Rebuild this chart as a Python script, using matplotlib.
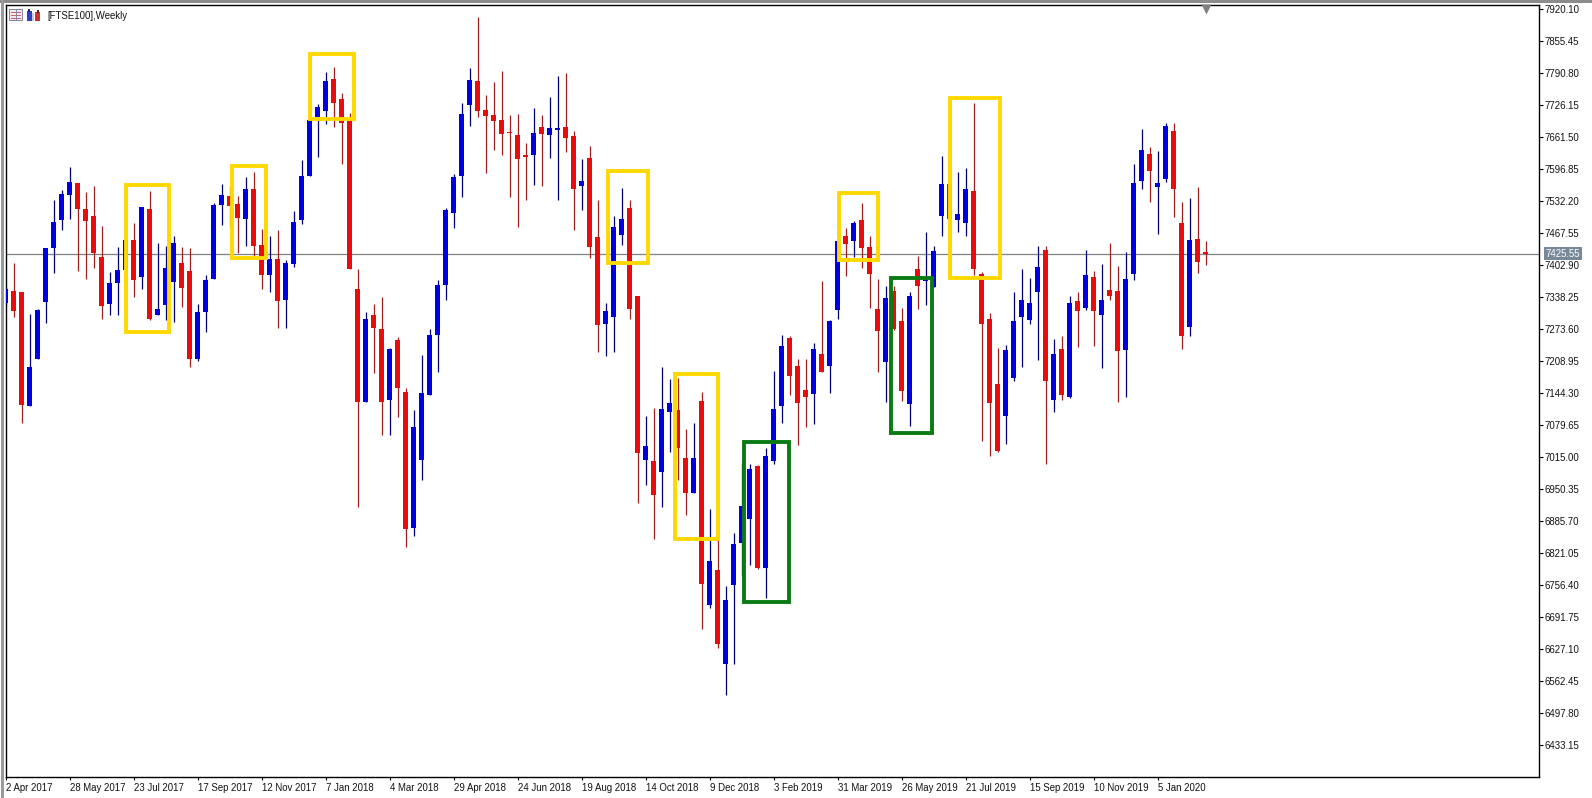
import matplotlib
matplotlib.use("Agg")
import matplotlib.pyplot as plt
from matplotlib.patches import Rectangle

opens = [7325, 7350, 7347, 7118, 7212, 7328, 7437, 7493, 7544, 7568,
         7515, 7501, 7419, 7324, 7366, 7392, 7453, 7379, 7515, 7301,
         7322, 7369, 7407, 7390, 7212, 7307, 7375, 7523, 7542, 7525,
         7495, 7556, 7443, 7382, 7414, 7332, 7404, 7493, 7582, 7701,
         7713, 7778, 7738, 7694, 7354, 7126, 7302, 7273, 7130, 7251,
         7146, 6872, 7008, 7140, 7260, 7362, 7508, 7582, 7726, 7774,
         7715, 7705, 7695, 7671, 7665, 7625, 7625, 7681, 7665, 7676,
         7681, 7663, 7562, 7619, 7459, 7283, 7298, 7463, 7518, 7340,
         7008, 7006, 6985, 7105, 7109, 7012, 6942, 7128, 6716, 6786,
         6597, 6756, 6841, 6889, 6996, 6791, 7006, 7118, 7255, 7198,
         7150, 7142, 7223, 7199, 7312, 7461, 7451, 7493, 7439, 7313,
         7206, 7350, 7289, 7122, 7394, 7370, 7358, 7501, 7565, 7493,
         7487, 7552, 7384, 7293, 7162, 7098, 7174, 7297, 7291, 7348,
         7433, 7130, 7233, 7136, 7330, 7315, 7378, 7301, 7352, 7350,
         7231, 7384, 7573, 7627, 7560, 7577, 7674, 7487, 7277, 7455, 7428]
highs = [7358, 7406, 7348, 7303, 7313, 7437, 7534, 7554, 7601, 7568,
         7550, 7561, 7481, 7388, 7439, 7457, 7488, 7520, 7552, 7447,
         7441, 7461, 7439, 7437, 7323, 7382, 7527, 7566, 7561, 7542,
         7581, 7590, 7476, 7461, 7474, 7412, 7511, 7614, 7699, 7728,
         7792, 7803, 7749, 7709, 7394, 7307, 7324, 7338, 7235, 7257,
         7153, 7109, 7221, 7274, 7373, 7517, 7586, 7729, 7800, 7904,
         7746, 7773, 7794, 7705, 7707, 7648, 7719, 7705, 7742, 7784,
         7791, 7674, 7617, 7643, 7534, 7326, 7501, 7557, 7534, 7340,
         7097, 7113, 7197, 7172, 7175, 7071, 7084, 7145, 6909, 6853,
         6754, 6860, 7002, 7000, 6998, 7032, 7188, 7261, 7258, 7212,
         7212, 7244, 7370, 7291, 7451, 7478, 7491, 7527, 7461, 7374,
         7360, 7359, 7316, 7348, 7421, 7469, 7441, 7623, 7566, 7591,
         7598, 7730, 7389, 7305, 7234, 7241, 7348, 7394, 7376, 7441,
         7441, 7253, 7258, 7340, 7348, 7433, 7390, 7404, 7447, 7400,
         7429, 7606, 7678, 7640, 7633, 7690, 7690, 7530, 7538, 7560, 7451]
lows = [7322, 7297, 7083, 7118, 7212, 7285, 7387, 7473, 7495, 7390,
        7374, 7396, 7293, 7301, 7301, 7388, 7338, 7354, 7291, 7301,
        7291, 7288, 7318, 7196, 7209, 7268, 7375, 7483, 7480, 7426,
        7441, 7421, 7354, 7348, 7276, 7276, 7399, 7485, 7582, 7621,
        7687, 7682, 7606, 7394, 6914, 7126, 7184, 7059, 7059, 7096,
        6833, 6855, 6969, 7140, 7187, 7332, 7478, 7539, 7683, 7702,
        7588, 7635, 7625, 7540, 7480, 7534, 7564, 7562, 7619, 7534,
        7631, 7473, 7513, 7416, 7227, 7219, 7227, 7443, 7293, 6921,
        6958, 6848, 6914, 7025, 6968, 6897, 6942, 6668, 6709, 6628,
        6534, 6597, 6775, 6796, 6788, 6730, 7000, 7083, 7140, 7039,
        7076, 7081, 7186, 7144, 7293, 7381, 7419, 7397, 7316, 7186,
        7126, 7271, 7128, 7077, 7313, 7322, 7358, 7461, 7495, 7470,
        7460, 7382, 7047, 7017, 7025, 7041, 7168, 7196, 7283, 7210,
        7000, 7105, 7130, 7133, 7236, 7311, 7239, 7195, 7332, 7126,
        7136, 7372, 7556, 7529, 7465, 7570, 7500, 7232, 7259, 7387, 7402]
closes = [7353, 7310, 7119, 7197, 7311, 7437, 7489, 7546, 7570, 7515,
          7491, 7427, 7320, 7366, 7392, 7453, 7372, 7519, 7293, 7313,
          7396, 7447, 7356, 7212, 7307, 7372, 7523, 7544, 7521, 7497,
          7556, 7441, 7382, 7414, 7330, 7406, 7489, 7582, 7695, 7722,
          7774, 7730, 7690, 7394, 7126, 7293, 7275, 7126, 7233, 7154,
          6870, 7075, 7143, 7261, 7362, 7513, 7580, 7707, 7776, 7714,
          7703, 7694, 7667, 7669, 7616, 7620, 7669, 7667, 7679, 7679,
          7659, 7556, 7572, 7439, 7281, 7309, 7479, 7495, 7313, 7022,
          7037, 6938, 7111, 7124, 7033, 6942, 7012, 6758, 6804, 6637,
          6726, 6839, 6915, 6990, 6791, 7016, 7111, 7239, 7178, 7124,
          7136, 7233, 7186, 7289, 7451, 7445, 7487, 7437, 7385, 7269,
          7336, 7274, 7148, 7340, 7360, 7372, 7431, 7566, 7495, 7505,
          7556, 7394, 7283, 7124, 7027, 7231, 7289, 7332, 7325, 7398,
          7168, 7222, 7140, 7325, 7309, 7382, 7309, 7332, 7340, 7229,
          7374, 7568, 7635, 7592, 7569, 7683, 7555, 7259, 7453, 7408, 7425.55]

date_labels = ["2 Apr 2017", "28 May 2017", "23 Jul 2017", "17 Sep 2017", "12 Nov 2017",
               "7 Jan 2018", "4 Mar 2018", "29 Apr 2018", "24 Jun 2018", "19 Aug 2018",
               "14 Oct 2018", "9 Dec 2018", "3 Feb 2019", "31 Mar 2019", "26 May 2019",
               "21 Jul 2019", "15 Sep 2019", "10 Nov 2019", "5 Jan 2020"]
price_ticks = ["6433.15", "6497.80", "6562.45", "6627.10", "6691.75", "6756.40",
               "6821.05", "6885.70", "6950.35", "7015.00", "7079.65", "7144.30",
               "7208.95", "7273.60", "7338.25", "7402.90", "7467.55", "7532.20",
               "7596.85", "7661.50", "7726.15", "7790.80", "7855.45", "7920.10"]
last_price = 7425.55

# left, right (bar number), top, bottom (price)
yellow_boxes = [(15.0, 20.42, 7563, 7268), (28.37, 32.58, 7603, 7417),
                (38.08, 43.58, 7829, 7697), (75.37, 80.37, 7592, 7406),
                (83.71, 89.0, 7182, 6849), (104.17, 109.0, 7548, 7412),
                (118.08, 124.25, 7740, 7377)]
green_boxes = [(92.33, 97.96, 7045, 6722), (110.67, 115.75, 7376, 7063)]

W, H = 1592, 798
plt.rcParams['font.family'] = ['Liberation Sans', 'DejaVu Sans']
fig = plt.figure(figsize=(W / 100, H / 100), dpi=100)

# axes frame in pixels of the picture
left, right, top, bottom = 5.5, 1539.3, 5, 777
ax = fig.add_axes([left / W, 1 - bottom / H, (right - left) / W, (bottom - top) / H])
ax.set_xlim(0, (right - left) / 8)
ax.set_ylim(6368, 7927.6)

RED = '#e80c0c'
BLUE = '#0000e0'
RED_WICK = '#9c2020'
BLUE_WICK = '#00006e'

ax.axhline(last_price, color='#808080', lw=0.9, zorder=1)

for i in range(len(opens)):
    up = closes[i] >= opens[i]
    ax.vlines(i, lows[i], highs[i], color=BLUE_WICK if up else RED_WICK, lw=0.9, zorder=2)
    ax.bar(i, max(abs(closes[i] - opens[i]), 1.5), bottom=min(opens[i], closes[i]), width=0.68,
           color=BLUE if up else RED, lw=0, zorder=3)


def box(b, color):
    ax.add_patch(Rectangle((b[0], b[3]), b[1] - b[0], b[2] - b[3], fill=False, edgecolor=color,
                           lw=2.8, joinstyle='miter', zorder=4))


for b in yellow_boxes:
    box(b, '#ffd800')
for b in green_boxes:
    box(b, '#0a7a14')

ax.xaxis.set_ticks_position('bottom')
ax.set_xticks([8 * i for i in range(len(date_labels))])
ax.set_xticklabels(date_labels, ha='left', fontsize=6.9, color='#111111')
ax.tick_params(axis='x', length=2.5, width=0.8, pad=1.5, color='black')

ax.yaxis.set_ticks_position('right')
ax.set_yticks([float(v) for v in price_ticks])
ax.set_yticklabels(price_ticks, fontsize=6.9, color='#111111')
ax.tick_params(axis='y', length=3, width=0.8, pad=1, color='black')
for s in ax.spines.values():
    s.set_linewidth(1.0)

# current price tag
ax.annotate(f"{last_price:.2f}", xy=(1, last_price), xycoords=('axes fraction', 'data'),
            xytext=(4.5, 0), textcoords='offset points', va='center', ha='left', fontsize=6.9,
            color='white', bbox=dict(boxstyle='square,pad=0.18', fc='#778899', ec='none'),
            annotation_clip=False, zorder=6)

# shift marker on the last bar
ax.plot([150], [7920], marker='v', ms=7, color='#808080', mec='none', clip_on=False, zorder=6)

fig.text(47 / W, 1 - 16 / H, "[FTSE100],Weekly", fontsize=6.9, color='#111111', va='center')


def px_rect(x, y, w, h, color):
    fig.add_artist(Rectangle((x / W, 1 - (y + h) / H), w / W, h / H, transform=fig.transFigure,
                             fc=color, ec='none', zorder=7))


# window border
px_rect(0, 0, W, 2.5, '#8c8c8c')
px_rect(1, 0, 2.5, 798, '#9a9a9a')

# little icons left of the title
px_rect(9, 9, 14, 12, '#8a8aa0')
px_rect(10, 10, 12, 10, '#f0e8f0')
for row in (12, 15, 18):
    px_rect(11, row, 10, 1, '#d06070')
px_rect(16, 10, 1, 10, '#8a8aa0')
px_rect(26.5, 11, 5, 10, '#3040c0')
px_rect(28, 9, 2, 3, '#202060')
px_rect(32, 13, 2, 8, '#c8c8e0')
px_rect(35, 12, 5, 9, '#d03030')
px_rect(37, 10, 2, 3, '#602020')

fig.savefig("out.png", dpi=100, facecolor='white')
